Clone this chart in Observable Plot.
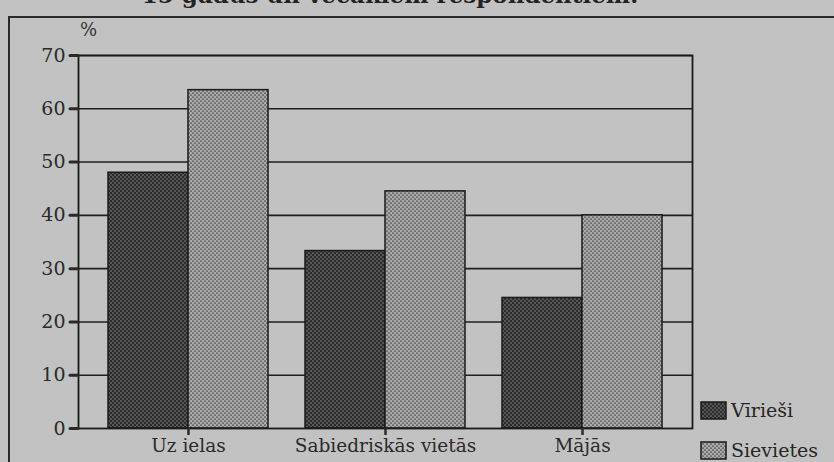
<!DOCTYPE html>
<html>
<head>
<meta charset="utf-8">
<script src="https://cdn.jsdelivr.net/npm/d3@7"></script>
<script src="https://cdn.jsdelivr.net/npm/@observablehq/plot@0.6"></script>
<style>
  html, body { margin: 0; padding: 0; background: #c2c2c2; }
  #wrap { position: relative; width: 834px; height: 462px; overflow: hidden; background: #c2c2c2;
          font-family: "DejaVu Serif", serif; color: #262626; }
  #title { position: absolute; left: 0; width: 780px; top: -19px; text-align: center;
           font-size: 23px; font-weight: bold; white-space: nowrap; color: #222; }
  #box { position: absolute; left: 8px; top: 16px; width: 840px; height: 460px;
         border-left: 2px solid #2a2a2a; border-top: 2px solid #2a2a2a; }
  #pct { position: absolute; left: 80px; top: 19px; font-size: 18px; color: #333; }
  #chart { position: absolute; left: 0; top: 0; }
  #legend { position: absolute; left: 700px; top: 390px; font-size: 19px; }
  #legend .item { display: flex; align-items: center; height: 40px; }
  #legend svg { margin-right: 4px; }
</style>
</head>
<body>
<svg width="0" height="0" style="position:absolute">
  <defs>
    <pattern id="pm" width="4" height="4" patternUnits="userSpaceOnUse">
      <rect width="4" height="4" fill="#2c2c2c"/>
      <circle cx="1" cy="1" r="0.8" fill="#8c8c8c"/>
      <circle cx="3" cy="3" r="0.8" fill="#8c8c8c"/>
    </pattern>
    <pattern id="pw" width="4" height="4" patternUnits="userSpaceOnUse">
      <rect width="4" height="4" fill="#aaaaaa"/>
      <circle cx="1" cy="1" r="0.85" fill="#444444"/>
      <circle cx="3" cy="3" r="0.85" fill="#444444"/>
    </pattern>
  </defs>
</svg>
<div id="wrap">
  <div id="title">15 gadus un vecākiem respondentiem.</div>
  <div id="box"></div>
  <div id="pct">%</div>
  <div id="chart"></div>
  <div id="legend"></div>
</div>
<script>
const categories = ["Uz ielas", "Sabiedriskās vietās", "Mājās"];
const series = ["Vīrieši", "Sievietes"];
const men = [48, 33.3, 24.5];
const women = [63.5, 44.5, 40];
const yTicks = [0, 10, 20, 30, 40, 50, 60, 70];
const patterns = {"Vīrieši": "url(#pm)", "Sievietes": "url(#pw)"};

const menData = categories.map((c, i) => ({cat: c, sex: series[0], v: men[i]}));
const womenData = categories.map((c, i) => ({cat: c, sex: series[1], v: women[i]}));

const half = 80;
const chart = Plot.plot({
  width: 834,
  height: 462,
  marginLeft: 78,
  marginRight: 142,
  marginTop: 55,
  marginBottom: 34,
  style: {background: "transparent", fontFamily: "DejaVu Serif, serif", color: "#2a2a2a"},
  x: {domain: categories, paddingInner: 0.188, paddingOuter: 0.152},
  y: {domain: [0, 70]},
  marks: [
    Plot.ruleY(yTicks.slice(1), {stroke: "#1e1e1e", strokeWidth: 1.6}),
    Plot.barY(menData, {x: "cat", y: "v", fill: patterns[series[0]], stroke: "#1a1a1a", strokeWidth: 1.5, insetRight: half}),
    Plot.barY(womenData, {x: "cat", y: "v", fill: patterns[series[1]], stroke: "#1a1a1a", strokeWidth: 1.5, insetLeft: half}),
    Plot.frame({stroke: "#1a1a1a", strokeWidth: 1.8}),
    Plot.axisY({ticks: yTicks, tickSize: 8, tickPadding: 5, fontSize: 19, strokeWidth: 3, strokeLinecap: "round", label: null}),
    Plot.axisX({tickSize: 7, tickPadding: 3, fontSize: 18.5, strokeWidth: 2.5, label: null})
  ]
});
document.getElementById("chart").appendChild(chart);

const legend = document.getElementById("legend");
series.forEach(s => {
  const item = document.createElement("div");
  item.className = "item";
  item.innerHTML = `<svg width="27" height="19"><rect x="1" y="1" width="25" height="17" fill="${patterns[s]}" stroke="#1a1a1a" stroke-width="1.5"/></svg><span>${s}</span>`;
  legend.appendChild(item);
});
</script>
</body>
</html>
